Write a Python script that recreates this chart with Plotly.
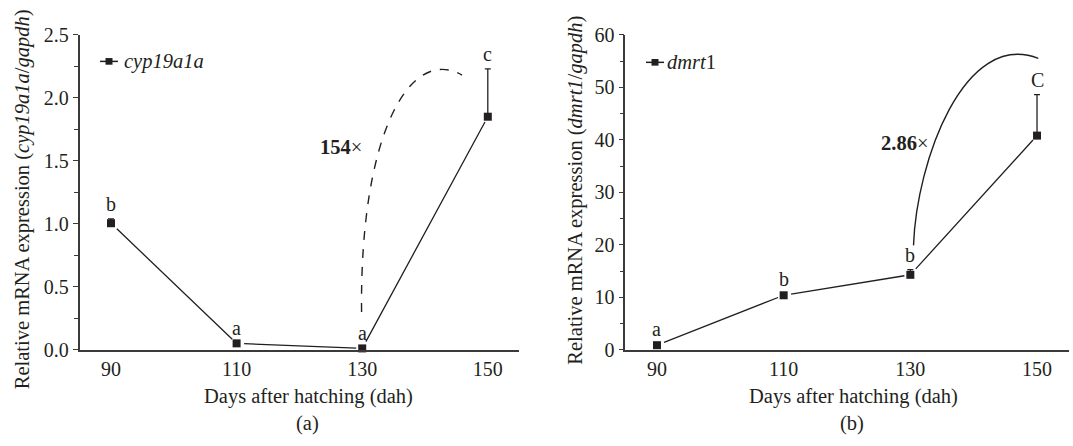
import plotly.graph_objects as go

# ---------------- data ----------------
days = [90, 110, 130, 150]

cyp_values = [1.005, 0.052, 0.012, 1.85]
cyp_err_up = [0.035, 0.004, 0.003, 0.38]
cyp_letters = ["b", "a", "a", "c"]

dmrt_values = [0.9, 10.4, 14.3, 40.8]
dmrt_err_up = [0.3, 0.2, 1.0, 7.8]
dmrt_letters = ["a", "b", "b", "C"]

# fold-change brace curves (cubic bezier control points, data coords)
cyp_curve_x = [129.9, 129.6, 137.5, 145.9]
cyp_curve_y = [0.30, 1.70, 2.42, 2.18]
dmrt_curve_x = [130.5, 131.0, 138.5, 150.2]
dmrt_curve_y = [19.9, 36.0, 61.0, 55.5]

cyp_fold = "<b>154</b>×"
dmrt_fold = "<b>2.86</b>×"

W, H = 1073, 446
FONT = "Liberation Serif"
INK = "#231f20"
AX = "#3a3a3a"
FS = 20.5

fig = go.Figure()

def add_series(xref, yref, vals, errs):
    fig.add_trace(go.Scatter(
        x=days, y=vals, mode="markers",
        marker=dict(symbol="square", size=8, color=INK),
        error_y=dict(type="data", array=errs, arrayminus=[0] * len(errs),
                     symmetric=False, color=INK, thickness=1.3, width=3),
        xaxis=xref, yaxis=yref, showlegend=False, cliponaxis=False,
        hoverinfo="skip"))
    for i in range(len(days) - 1):
        fig.add_annotation(
            x=days[i + 1], y=vals[i + 1], ax=days[i], ay=vals[i],
            xref=xref, yref=yref, axref=xref, ayref=yref,
            text="", showarrow=True, arrowhead=0, arrowwidth=1.3,
            arrowcolor=INK, standoff=6, startstandoff=6)

add_series("x", "y", cyp_values, cyp_err_up)
add_series("x2", "y2", dmrt_values, dmrt_err_up)

def letters(xref, yref, vals, errs, labs):
    for d, v, e, l in zip(days, vals, errs, labs):
        fig.add_annotation(x=d, y=v + e, xref=xref, yref=yref, text=l,
                           showarrow=False, yanchor="middle", yshift=15,
                           font=dict(family=FONT, size=20, color=INK))

letters("x", "y", cyp_values, cyp_err_up, cyp_letters)
letters("x2", "y2", dmrt_values, dmrt_err_up, dmrt_letters)

def bezier_path(xs, ys):
    return "M {},{} C {},{} {},{} {},{}".format(
        xs[0], ys[0], xs[1], ys[1], xs[2], ys[2], xs[3], ys[3])

fig.add_shape(type="path", path=bezier_path(cyp_curve_x, cyp_curve_y),
              xref="x", yref="y", line=dict(color=INK, width=1.4, dash="dash"))
fig.add_shape(type="path", path=bezier_path(dmrt_curve_x, dmrt_curve_y),
              xref="x2", yref="y2", line=dict(color=INK, width=1.4))

fig.add_annotation(x=126.7, y=1.61, xref="x", yref="y", text=cyp_fold,
                   showarrow=False, font=dict(family=FONT, size=FS, color=INK))
fig.add_annotation(x=129.0, y=39.4, xref="x2", yref="y2", text=dmrt_fold,
                   showarrow=False, font=dict(family=FONT, size=FS, color=INK))

# manual legends (paper pixel positions)
def legend(x0, x1, yc, tx, label):
    fig.add_shape(type="line", xref="paper", yref="paper",
                  x0=x0 / W, x1=x1 / W, y0=1 - yc / H, y1=1 - yc / H,
                  line=dict(color=INK, width=1.5))
    xm = (x0 + x1) / 2
    fig.add_shape(type="rect", xref="paper", yref="paper",
                  x0=(xm - 3.5) / W, x1=(xm + 3.5) / W,
                  y0=1 - (yc + 3.5) / H, y1=1 - (yc - 3.5) / H,
                  fillcolor=INK, line=dict(width=0))
    fig.add_annotation(x=tx / W, y=1 - yc / H, xref="paper", yref="paper",
                       text=label, showarrow=False, xanchor="left",
                       yanchor="middle",
                       font=dict(family=FONT, size=FS, color=INK))

legend(100, 118, 53, 122, "<i>cyp19a1a</i>")
legend(646, 664, 54, 665, "<i>dmrt</i>1")

# axis titles and captions
def text(x, y, s, angle=0, size=FS):
    fig.add_annotation(x=x / W, y=1 - y / H, xref="paper", yref="paper",
                       text=s, showarrow=False, textangle=angle,
                       xanchor="center", yanchor="middle",
                       font=dict(family=FONT, size=size, color=INK))

text(22, 198, "Relative mRNA expression (<i>cyp19a1a</i>/<i>gapdh</i>)", -90)
text(576, 189, "Relative mRNA expression (<i>dmrt1</i>/<i>gapdh</i>)", -90)
text(308, 406, "Days after hatching (dah)")
text(853, 406, "Days after hatching (dah)")
text(307, 434, "(a)")
text(852, 434, "(b)")

ydom = [1 - 356.5 / H, 1 - 25 / H]
xcommon = dict(range=[85, 155], tickvals=days, ticks="", showline=True,
               linecolor=AX, linewidth=1.5, showgrid=False,
               zeroline=False, tickfont=dict(family=FONT, size=20, color=INK),
               fixedrange=True)
ycommon = dict(ticks="outside", ticklen=5, tickcolor=AX, tickwidth=1.2,
               showline=True, linecolor=AX, linewidth=1.5,
               showgrid=False, zeroline=False, fixedrange=True,
               tickfont=dict(family=FONT, size=20, color=INK))
fig.update_layout(
    width=W, height=H, margin=dict(l=0, r=0, t=0, b=0),
    paper_bgcolor="white", plot_bgcolor="white", hovermode=False,
    xaxis=dict(domain=[79.6 / W, 519.2 / W], anchor="y", **xcommon),
    xaxis2=dict(domain=[625.3 / W, 1068.7 / W], anchor="y2", **xcommon),
    yaxis=dict(domain=ydom, anchor="x", range=[0, 2.5], dtick=0.5,
               tickformat=".1f",
               minor=dict(ticks="outside", ticklen=4, dtick=0.25,
                          tickcolor=AX, tickwidth=1.2), **ycommon),
    yaxis2=dict(domain=ydom, anchor="x2", range=[0, 60], dtick=10,
                minor=dict(ticks="outside", ticklen=4, dtick=5,
                           tickcolor=AX, tickwidth=1.2), **ycommon),
)

fig.write_html("out.html", config={"displayModeBar": False},
               post_script="document.body.style.margin='0px';"
                           "document.body.style.overflow='hidden';")
